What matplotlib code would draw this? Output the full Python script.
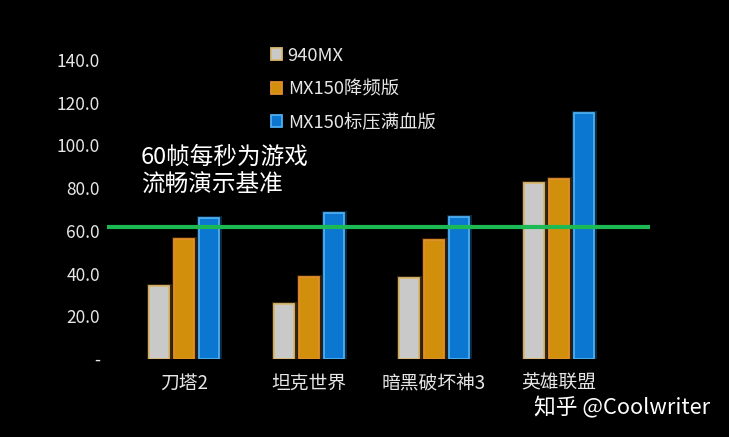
"""Frame-rate comparison of 940MX vs two MX150 variants."""
import numpy as np
import matplotlib
matplotlib.use("Agg")
import matplotlib.pyplot as plt  # noqa: E402

plt.rcParams["font.family"] = ["Noto Sans CJK SC", "DejaVu Sans"]

games = ["刀塔2", "坦克世界", "暗黑破坏神3", "英雄联盟"]
series = ["940MX", "MX150降频版", "MX150标压满血版"]
fps_940mx = [34.0, 25.6, 37.8, 82.2]
fps_mx150_low = [56.0, 38.3, 55.6, 84.2]
fps_mx150_full = [66.0, 68.2, 66.4, 115.0]
smooth_fps = 62.0
yticks = [0, 20, 40, 60, 80, 100, 120, 140]
ytick_labels = ["-", "20.0", "40.0", "60.0", "80.0", "100.0", "120.0", "140.0"]

face = ["#c9c9c9", "#d18f0c", "#0b77d1"]
edge = ["#d9b870", "#e0902a", "#4fb0f0"]
glow = ["#b08a40", "#b86a10", "#2a8ae0"]
txt = "#e6e6e6"

fig = plt.figure(figsize=(7.29, 4.37), dpi=100, facecolor="black")
ax = fig.add_axes([0.1468, 0.1785, 0.7448, 0.6842], facecolor="black")

x = np.arange(len(games))
w = 0.16
step = 0.2
for i, vals in enumerate([fps_940mx, fps_mx150_low, fps_mx150_full]):
    xs = x + (i - 1) * step
    # soft glow behind each bar
    ax.bar(xs, vals, width=w, color="none", edgecolor=glow[i], linewidth=3.5,
           alpha=0.3, zorder=2)
    ax.bar(xs, vals, width=w, color=face[i], edgecolor=edge[i], linewidth=1.3,
           zorder=3, label=series[i])

ax.axhline(smooth_fps, color="#1db954", lw=3, zorder=4)

ax.set_xlim(-0.62, 3.73)
ax.set_ylim(0, 140)
ax.set_yticks(yticks)
ax.set_yticklabels(ytick_labels)
ax.set_xticks(x)
ax.set_xticklabels(games)
ax.tick_params(axis="both", length=0, colors=txt)
ax.tick_params(axis="y", pad=5, labelsize=12.5)
ax.tick_params(axis="x", pad=10, labelsize=13.5)
for s in ax.spines.values():
    s.set_visible(False)

ax.text(-0.35, 76.0, "60帧每秒为游戏\n流畅演示基准", color="white", fontsize=17,
        linespacing=1.25, va="bottom", ha="left")

leg = ax.legend(loc="upper left", bbox_to_anchor=(0.272, 1.1), frameon=False,
                fontsize=13.2, handlelength=0.6, handleheight=0.6,
                handletextpad=0.3, labelspacing=0.85)
for t in leg.get_texts():
    t.set_color(txt)

fig.text(0.733, 0.066, "知乎 @Coolwriter", color="white", fontsize=15.7,
         ha="left", va="center")

fig.savefig("out.png", dpi=100, facecolor="black")
plt.close(fig)
